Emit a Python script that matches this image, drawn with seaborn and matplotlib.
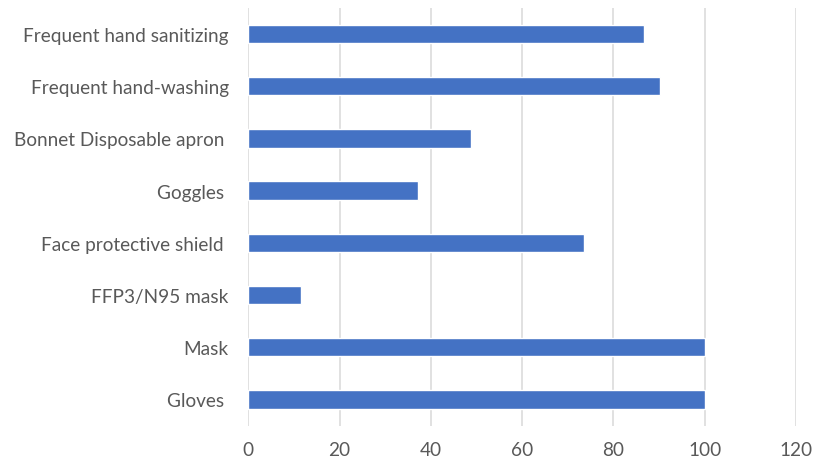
import matplotlib
matplotlib.use("Agg")
import matplotlib.pyplot as plt
import seaborn as sns
import pandas as pd

# Protective measures and share of respondents (%)
measures = [
    "Frequent hand sanitizing",
    "Frequent hand-washing",
    "Bonnet Disposable apron ",
    "Goggles ",
    "Face protective shield ",
    "FFP3/N95 mask",
    "Mask",
    "Gloves ",
]
values = [86.6, 90.1, 48.9, 37.1, 73.5, 11.5, 100, 100]
x_ticks = [0, 20, 40, 60, 80, 100, 120]

df = pd.DataFrame({"measure": measures, "value": values})

sns.set_theme(style="white")
plt.rcParams["font.family"] = ["Lato", "DejaVu Sans"]

fig = plt.figure(figsize=(8.14, 4.64), dpi=100)
ax = fig.add_axes([0.305, 0.0808, 0.6729, 0.900])

sns.barplot(data=df, x="value", y="measure", orient="h", color="#4472C4",
            saturation=1, width=0.35, ax=ax, zorder=3)

ax.set_xlim(0, 120)
ax.set_xticks(x_ticks)
ax.set_xticklabels([str(t) for t in x_ticks])
ax.grid(axis="x", color="#d9d9d9", linewidth=1.1, zorder=0)
ax.grid(axis="y", visible=False)
for s in ax.spines.values():
    s.set_visible(False)
ax.set_xlabel("")
ax.set_ylabel("")
ax.tick_params(axis="y", length=0, pad=14, labelsize=13.7, labelcolor="#595959")
ax.tick_params(axis="x", length=0, pad=11, labelsize=13.7, labelcolor="#595959")

fig.savefig("out.png", dpi=100)
